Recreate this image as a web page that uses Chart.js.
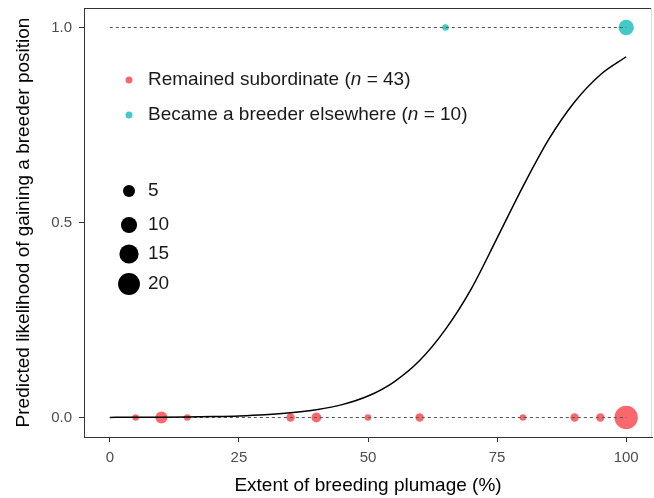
<!DOCTYPE html>
<html>
<head>
<meta charset="utf-8">
<script src="https://cdn.jsdelivr.net/npm/chart.js@4.4.1/dist/chart.umd.min.js"></script>
<style>
  html, body { margin: 0; padding: 0; background: #ffffff; }
  #wrap { width: 654px; height: 498px; }
</style>
</head>
<body>
<div id="wrap"><canvas id="c" width="654" height="498"></canvas></div>
<script>
// ---- data ----
const subordinateX = [5, 10, 15, 35, 40, 50, 60, 80, 90, 95, 100];
const subordinateN = [1, 5, 1, 2, 3, 1, 2, 1, 2, 2, 23];
const breederX = [65, 100];
const breederN = [1, 9];
const curveX = [0, 5, 10, 15, 20, 25, 30, 35, 40, 45, 50, 55, 60, 65, 70, 75, 80, 85, 90, 95, 100];
const curveY = [0.0003, 0.0005, 0.0008, 0.0014, 0.0024, 0.004, 0.007, 0.012, 0.020, 0.033, 0.055, 0.091, 0.146, 0.226, 0.33, 0.46, 0.592, 0.713, 0.809, 0.879, 0.925];
const xTicks = [0, 25, 50, 75, 100];
const yTicks = [0, 0.5, 1];
const sizeBreaks = [5, 10, 15, 20];
const seriesLabels = ['Remained subordinate', 'Became a breeder elsewhere'];
const seriesTotals = [43, 10];

const RED = '#F9686C';
const TEAL = '#43C9C6';
const FONT = '"Liberation Sans", Arial, sans-serif';
function radiusFor(n) { return 1.1 + 2.2 * Math.sqrt(n); }

const refLineX = [xTicks[0], xTicks[xTicks.length - 1]];

const overlay = {
  id: 'overlay',
  afterDraw(chart) {
    const ctx = chart.ctx;
    const a = chart.chartArea;
    ctx.save();
    // top and right frame
    ctx.strokeStyle = '#333333';
    ctx.lineWidth = 1;
    ctx.beginPath();
    ctx.moveTo(a.left, a.top + 0.5);
    ctx.lineTo(a.right, a.top + 0.5);
    ctx.stroke();
    ctx.strokeStyle = '#dddddd';
    ctx.beginPath();
    ctx.moveTo(a.right - 0.5, a.top);
    ctx.lineTo(a.right - 0.5, a.bottom);
    ctx.stroke();

    // colour legend
    const colors = [RED, TEAL];
    const ys = [80, 115];
    ctx.textBaseline = 'middle';
    ctx.textAlign = 'left';
    for (let i = 0; i < 2; i++) {
      ctx.fillStyle = colors[i];
      ctx.beginPath();
      ctx.arc(129, ys[i], 3.5, 0, Math.PI * 2);
      ctx.fill();
      ctx.fillStyle = '#1a1a1a';
      let x = 148;
      const parts = [
        [seriesLabels[i] + ' (', 'normal'],
        ['n', 'italic'],
        [' = ' + seriesTotals[i] + ')', 'normal']
      ];
      for (const [t, st] of parts) {
        ctx.font = st + ' 19px ' + FONT;
        ctx.fillText(t, x, ys[i]);
        x += ctx.measureText(t).width;
      }
    }
    // size legend
    const sy = [191, 225, 254, 284];
    ctx.font = '19px ' + FONT;
    for (let i = 0; i < sizeBreaks.length; i++) {
      ctx.fillStyle = '#000000';
      ctx.beginPath();
      ctx.arc(129, sy[i], radiusFor(sizeBreaks[i]), 0, Math.PI * 2);
      ctx.fill();
      ctx.fillStyle = '#1a1a1a';
      ctx.fillText(String(sizeBreaks[i]), 148, sy[i]);
    }
    ctx.restore();
  }
};

function noPad(s) { s.paddingLeft = 0; s.paddingRight = 0; s.paddingTop = 0; s.paddingBottom = 0; }

new Chart(document.getElementById('c'), {
  type: 'scatter',
  data: {
    datasets: [
      {
        type: 'line',
        label: 'curve',
        data: curveX.map((x, i) => ({ x, y: curveY[i] })),
        borderColor: '#000000',
        borderWidth: 1.5,
        pointRadius: 0,
        cubicInterpolationMode: 'monotone',
        fill: false,
        order: 0
      },
      {
        type: 'line',
        label: 'ref0',
        data: refLineX.map(x => ({ x, y: yTicks[0] })),
        borderColor: '#555555',
        borderWidth: 1,
        borderDash: [3, 3],
        pointRadius: 0,
        fill: false,
        order: 1
      },
      {
        type: 'line',
        label: 'ref1',
        data: refLineX.map(x => ({ x, y: yTicks[yTicks.length - 1] })),
        borderColor: '#555555',
        borderWidth: 1,
        borderDash: [3, 3],
        pointRadius: 0,
        fill: false,
        order: 1
      },
      {
        label: seriesLabels[0],
        data: subordinateX.map(x => ({ x, y: 0 })),
        backgroundColor: RED,
        borderWidth: 0,
        pointRadius: subordinateN.map(radiusFor),
        order: 2
      },
      {
        label: seriesLabels[1],
        data: breederX.map(x => ({ x, y: 1 })),
        backgroundColor: TEAL,
        borderWidth: 0,
        pointRadius: breederN.map(radiusFor),
        order: 2
      }
    ]
  },
  options: {
    responsive: false,
    animation: false,
    devicePixelRatio: 1,
    layout: { autoPadding: false, padding: { top: 8, right: 2, left: 0, bottom: 0 } },
    plugins: { legend: { display: false }, tooltip: { enabled: false } },
    scales: {
      x: {
        type: 'linear',
        min: -5, max: 105,
        afterBuildTicks: s => { s.ticks = xTicks.map(v => ({ value: v })); },
        afterFit: s => { s.height = 61; noPad(s); },
        grid: { drawOnChartArea: false, drawTicks: true, tickLength: 5, color: '#333333' },
        border: { display: true, color: '#333333', width: 1 },
        ticks: { color: '#4d4d4d', font: { family: FONT, size: 15 }, padding: 7, maxRotation: 0 },
        title: { display: true, text: 'Extent of breeding plumage (%)', color: '#000000',
                 font: { family: FONT, size: 19 }, padding: { top: 0, bottom: 1 } }
      },
      y: {
        type: 'linear',
        min: -0.05, max: 1.05,
        afterBuildTicks: s => { s.ticks = yTicks.map(v => ({ value: v })); },
        afterFit: s => { s.width = 84; noPad(s); },
        grid: { drawOnChartArea: false, drawTicks: true, tickLength: 5, color: '#333333' },
        border: { display: true, color: '#333333', width: 1 },
        ticks: { color: '#4d4d4d', font: { family: FONT, size: 15 }, padding: 7,
                 callback: v => Number(v).toFixed(1) },
        title: { display: true, text: 'Predicted likelihood of gaining a breeder position', color: '#000000',
                 font: { family: FONT, size: 19 }, padding: { top: 12, bottom: 0 } }
      }
    }
  },
  plugins: [overlay]
});
</script>
</body>
</html>
